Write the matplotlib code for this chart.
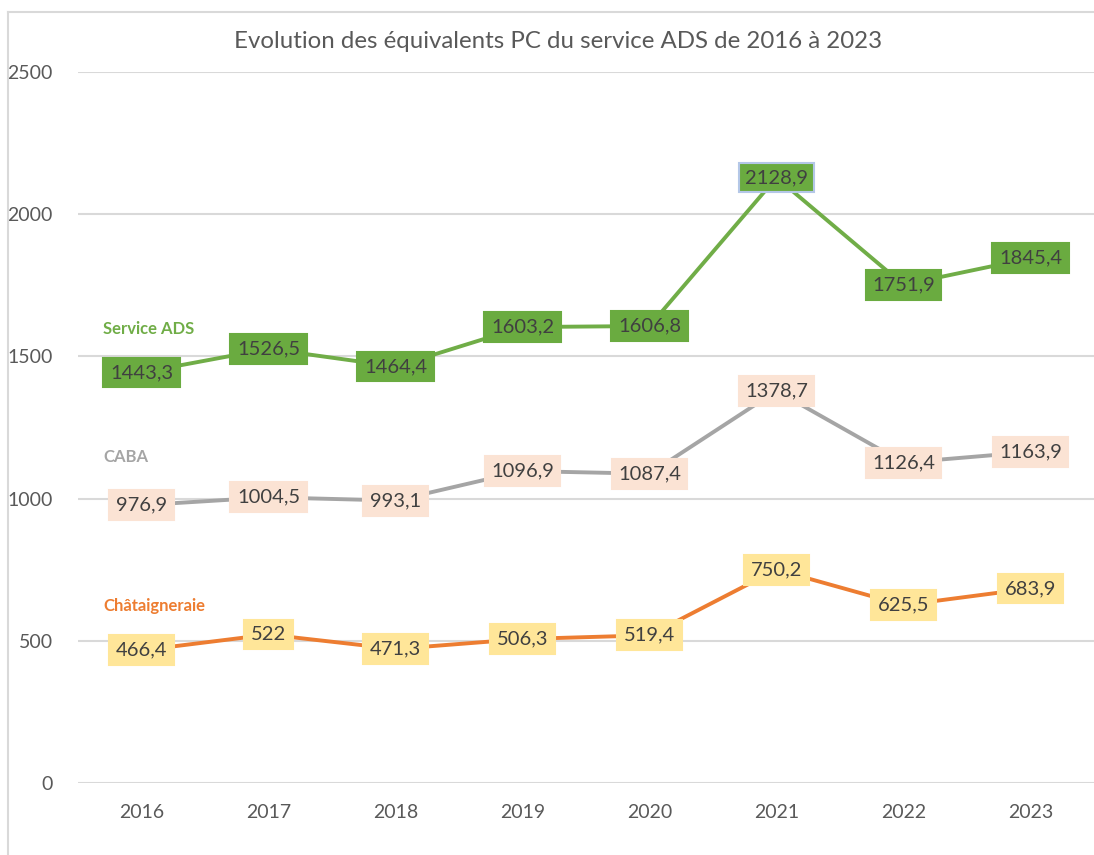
import matplotlib
matplotlib.use("Agg")
from matplotlib import pyplot as plt
from matplotlib.lines import Line2D

plt.rcParams['font.family'] = ['Lato', 'DejaVu Sans']

years = ["2016", "2017", "2018", "2019", "2020", "2021", "2022", "2023"]
service_ads = [1443.3, 1526.5, 1464.4, 1603.2, 1606.8, 2128.9, 1751.9, 1845.4]
caba = [976.9, 1004.5, 993.1, 1096.9, 1087.4, 1378.7, 1126.4, 1163.9]
chataigneraie = [466.4, 522, 471.3, 506.3, 519.4, 750.2, 625.5, 683.9]

series = [
    ("Service ADS", service_ads, "#70ad47", "#6aab40", 1597),
    ("CABA", caba, "#a5a5a5", "#fbe3d4", 1146),
    ("Châtaigneraie", chataigneraie, "#ed7d31", "#ffe699", 622),
]

def fmt(v):
    s = ("%.1f" % v).rstrip("0").rstrip(".")
    return s.replace(".", ",")

fig = plt.figure(figsize=(10.94, 8.55), dpi=100)
ax = fig.add_axes([78 / 1094, 1 - 783 / 855, 1016 / 1094, 711 / 855])

x = list(range(len(years)))
for name, vals, lc, bc, ly in series:
    ax.plot(x, vals, color=lc, lw=2.8, zorder=2)
    for i, v in enumerate(vals):
        ec = "#b4c7e7" if v == max(service_ads) else bc
        ax.text(i, v, fmt(v), ha="center", va="center", fontsize=14.5,
                color="#404040", zorder=3,
                bbox=dict(boxstyle="square,pad=0.32", fc=bc, ec=ec, lw=1.5))
    ax.text(-0.3, ly, name, color=lc, fontsize=12, fontweight="bold",
            ha="left", va="center")

ax.set_xlim(-0.5, 7.5)
ax.set_ylim(0, 2500)
ax.set_yticks([0, 500, 1000, 1500, 2000, 2500])
ax.set_xticks(x)
ax.set_xticklabels(years)
ax.yaxis.grid(True, color="#d9d9d9", lw=1.5)
ax.set_axisbelow(True)
for sp in ax.spines.values():
    sp.set_visible(False)
ax.tick_params(axis="both", length=0, labelsize=14, colors="#595959")
ax.tick_params(axis="y", pad=18)
ax.tick_params(axis="x", pad=15)

fig.text(558 / 1094, 1 - 42 / 855, "Evolution des équivalents PC du service ADS de 2016 à 2023",
         ha="center", va="center", fontsize=17.3, color="#595959")

# outer chart border (left and top edges visible)
fig.add_artist(Line2D([8 / 1094, 8 / 1094], [0, 1 - 12 / 855], transform=fig.transFigure,
                      color="#d9d9d9", lw=1.5))
fig.add_artist(Line2D([8 / 1094, 1], [1 - 12 / 855, 1 - 12 / 855], transform=fig.transFigure,
                      color="#d9d9d9", lw=1.5))

fig.savefig("out.png", dpi=100)
